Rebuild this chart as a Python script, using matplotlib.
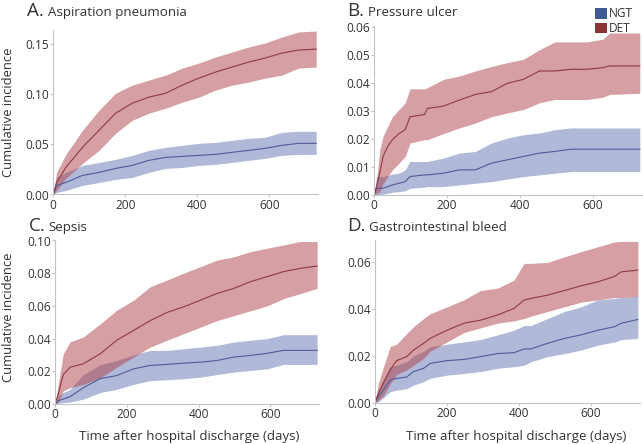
import matplotlib
matplotlib.use("Agg")
import matplotlib.pyplot as plt
from matplotlib.patches import Patch

plt.rcParams['font.family'] = ['Open Sans', 'DejaVu Sans']

# ---------------- data ----------------
# Panel A: Aspiration pneumonia
a_days = [0, 9, 35, 81, 127, 173, 219, 265, 312, 358, 404, 450, 496, 542, 588, 635, 681, 730]
a_det = [0, 0.012, 0.027, 0.047, 0.064, 0.081, 0.091, 0.097, 0.101, 0.109, 0.116, 0.122, 0.127, 0.132, 0.136, 0.141, 0.144, 0.145]
a_det_hi = [0, 0.022, 0.040, 0.064, 0.084, 0.101, 0.109, 0.114, 0.119, 0.126, 0.131, 0.137, 0.142, 0.147, 0.151, 0.157, 0.162, 0.163]
a_det_lo = [0, 0.004, 0.016, 0.031, 0.044, 0.061, 0.074, 0.081, 0.086, 0.092, 0.097, 0.104, 0.109, 0.112, 0.116, 0.119, 0.126, 0.127]
a_ngt = [0, 0.009, 0.012, 0.019, 0.022, 0.026, 0.029, 0.034, 0.037, 0.038, 0.039, 0.040, 0.042, 0.044, 0.046, 0.049, 0.051, 0.051]
a_ngt_hi = [0, 0.017, 0.022, 0.029, 0.032, 0.035, 0.039, 0.044, 0.047, 0.049, 0.051, 0.052, 0.054, 0.056, 0.057, 0.062, 0.063, 0.063]
a_ngt_lo = [0, 0.002, 0.004, 0.009, 0.012, 0.015, 0.017, 0.022, 0.026, 0.027, 0.029, 0.030, 0.032, 0.034, 0.036, 0.039, 0.040, 0.040]

# Panel B: Pressure ulcer
b_days = [0, 6, 15, 24, 37, 50, 68, 85, 98, 138, 146, 190, 234, 278, 322, 366, 410, 454, 497, 541, 585, 629, 647, 730]
b_det = [0, 0.003, 0.0078, 0.0138, 0.0174, 0.0198, 0.022, 0.0234, 0.028, 0.0288, 0.031, 0.0318, 0.034, 0.036, 0.037, 0.040, 0.0414, 0.0444, 0.0444, 0.045, 0.045, 0.0456, 0.0462, 0.0462]
b_det_hi = [0, 0.005, 0.016, 0.021, 0.0246, 0.028, 0.0306, 0.033, 0.038, 0.038, 0.0384, 0.0414, 0.0426, 0.0444, 0.046, 0.0474, 0.0486, 0.052, 0.0548, 0.0548, 0.0548, 0.0558, 0.058, 0.058]
b_det_lo = [0, 0.0005, 0.001, 0.004, 0.0066, 0.009, 0.0114, 0.0138, 0.0186, 0.0198, 0.0198, 0.022, 0.024, 0.0258, 0.028, 0.0294, 0.0306, 0.033, 0.0342, 0.0342, 0.0342, 0.035, 0.036, 0.0364]
b_ngt = [0, 0.0024, 0.0024, 0.0024, 0.003, 0.0036, 0.0042, 0.0048, 0.0066, 0.0072, 0.0072, 0.0078, 0.009, 0.009, 0.0114, 0.0126, 0.0138, 0.015, 0.0156, 0.0164, 0.0164, 0.0164, 0.0164, 0.0164]
b_ngt_hi = [0, 0.0066, 0.0066, 0.0066, 0.007, 0.0075, 0.0078, 0.009, 0.012, 0.012, 0.012, 0.0132, 0.015, 0.0156, 0.0186, 0.0204, 0.0216, 0.0222, 0.0234, 0.024, 0.024, 0.024, 0.024, 0.024]
b_ngt_lo = [0, 0, 0, 0.0003, 0.0006, 0.001, 0.0012, 0.0015, 0.0024, 0.0028, 0.003, 0.003, 0.0036, 0.0042, 0.0048, 0.0057, 0.0066, 0.0072, 0.0078, 0.0084, 0.0084, 0.0084, 0.0084, 0.0084]

# Panel C: Sepsis
c_days = [0, 9, 23, 42, 79, 126, 172, 219, 265, 312, 358, 405, 451, 498, 544, 591, 637, 684, 730]
c_det = [0, 0.006, 0.018, 0.0225, 0.0246, 0.0307, 0.039, 0.045, 0.051, 0.056, 0.0594, 0.0635, 0.0676, 0.0707, 0.0748, 0.0779, 0.081, 0.083, 0.0844]
c_det_hi = [0, 0.012, 0.0307, 0.038, 0.041, 0.049, 0.0574, 0.0635, 0.0717, 0.0758, 0.080, 0.084, 0.088, 0.090, 0.0932, 0.0953, 0.0973, 0.0994, 0.0994]
c_det_lo = [0, 0.001, 0.008, 0.010, 0.012, 0.016, 0.0225, 0.0287, 0.0348, 0.039, 0.043, 0.047, 0.051, 0.054, 0.057, 0.060, 0.0645, 0.0676, 0.0707]
c_ngt = [0, 0.002, 0.003, 0.0045, 0.010, 0.0155, 0.0174, 0.0215, 0.0236, 0.0242, 0.025, 0.0256, 0.0266, 0.0287, 0.0297, 0.031, 0.0328, 0.0328, 0.0328]
c_ngt_hi = [0, 0.005, 0.007, 0.009, 0.018, 0.024, 0.0266, 0.030, 0.0328, 0.0328, 0.0338, 0.0348, 0.0359, 0.0379, 0.039, 0.040, 0.0424, 0.0424, 0.0424]
c_ngt_lo = [0, 0.0004, 0.0008, 0.0012, 0.003, 0.007, 0.009, 0.012, 0.0143, 0.0148, 0.0155, 0.0164, 0.018, 0.0195, 0.0205, 0.0215, 0.0242, 0.0242, 0.0242]

# Panel D: Gastrointestinal bleed
d_days = [0, 9, 23, 42, 60, 88, 107, 135, 153, 200, 247, 293, 340, 386, 414, 433, 479, 526, 572, 619, 665, 684, 730]
d_det = [0, 0.004, 0.0083, 0.014, 0.018, 0.0197, 0.0225, 0.0254, 0.0275, 0.031, 0.034, 0.0353, 0.0375, 0.0403, 0.0439, 0.0446, 0.046, 0.048, 0.050, 0.0517, 0.054, 0.056, 0.0567]
d_det_hi = [0, 0.008, 0.015, 0.024, 0.025, 0.0296, 0.0325, 0.036, 0.038, 0.041, 0.044, 0.048, 0.049, 0.0524, 0.0596, 0.0596, 0.060, 0.0624, 0.0646, 0.0667, 0.0688, 0.069, 0.069]
d_det_lo = [0, 0.001, 0.003, 0.008, 0.012, 0.014, 0.016, 0.019, 0.022, 0.026, 0.030, 0.032, 0.034, 0.035, 0.036, 0.037, 0.039, 0.041, 0.043, 0.044, 0.045, 0.045, 0.0455]
d_ngt = [0, 0.0026, 0.0054, 0.0097, 0.0104, 0.011, 0.0133, 0.0147, 0.0168, 0.018, 0.0185, 0.0197, 0.021, 0.0214, 0.023, 0.023, 0.0254, 0.0275, 0.029, 0.031, 0.0325, 0.034, 0.0356]
d_ngt_hi = [0, 0.0047, 0.0097, 0.0154, 0.016, 0.0175, 0.020, 0.022, 0.024, 0.025, 0.026, 0.027, 0.029, 0.031, 0.033, 0.033, 0.036, 0.039, 0.041, 0.044, 0.0446, 0.045, 0.0456]
d_ngt_lo = [0, 0.0004, 0.002, 0.0047, 0.0054, 0.006, 0.0075, 0.009, 0.0104, 0.0118, 0.0125, 0.0133, 0.0147, 0.0154, 0.016, 0.0175, 0.0197, 0.021, 0.0225, 0.0246, 0.026, 0.027, 0.0275]

panel_letters = ["A.", "B.", "C.", "D."]
panel_titles = ["Aspiration pneumonia", "Pressure ulcer", "Sepsis", "Gastrointestinal bleed"]
a_ticks = [0.00, 0.05, 0.10, 0.15]
b_ticks = [0.00, 0.01, 0.02, 0.03, 0.04, 0.05, 0.06]
c_ticks = [0.00, 0.02, 0.04, 0.06, 0.08, 0.10]
d_ticks = [0.00, 0.02, 0.04, 0.06]
x_ticks = [0, 200, 400, 600]
legend_labels = ["NGT", "DET"]
y_label = "Cumulative incidence"
x_label = "Time after hospital discharge (days)"

# ---------------- style ----------------
W, H = 643, 444
fig = plt.figure(figsize=(W / 100, H / 100), dpi=100)

RED_BAND = '#ae4148'
BLUE_BAND = '#6475b2'
RED_LINE = '#8e3a40'
BLUE_LINE = '#4e5c9a'
SPINE = '#c4c4c4'
TXT = '#333333'

def px_axes(l, r, t, b):
    return [l / W, 1 - b / H, (r - l) / W, (b - t) / H]

panels = [
    dict(rect=px_axes(53.3, 318.3, 30, 194.5), days=a_days,
         ngt=(a_ngt, a_ngt_lo, a_ngt_hi), det=(a_det, a_det_lo, a_det_hi),
         ylim=0.164, ticks=a_ticks),
    dict(rect=px_axes(374.3, 642, 26, 195), days=b_days,
         ngt=(b_ngt, b_ngt_lo, b_ngt_hi), det=(b_det, b_det_lo, b_det_hi),
         ylim=0.0605, ticks=b_ticks),
    dict(rect=px_axes(55, 319.3, 240.5, 404), days=c_days,
         ngt=(c_ngt, c_ngt_lo, c_ngt_hi), det=(c_det, c_det_lo, c_det_hi),
         ylim=0.1, ticks=c_ticks),
    dict(rect=px_axes(375, 640, 240, 402.7), days=d_days,
         ngt=(d_ngt, d_ngt_lo, d_ngt_hi), det=(d_det, d_det_lo, d_det_hi),
         ylim=0.0696, ticks=d_ticks),
]

XMAX = 736
for p in panels:
    ax = fig.add_axes(p['rect'])
    days = p['days']
    for (est, lo, hi), band, line in ((p['ngt'], BLUE_BAND, BLUE_LINE),
                                      (p['det'], RED_BAND, RED_LINE)):
        ax.fill_between(days, lo, hi, color=band, alpha=0.5, linewidth=0)
        ax.plot(days, est, color=line, linewidth=0.8)
    ax.set_xlim(0, XMAX)
    ax.set_ylim(0, p['ylim'])
    ax.set_xticks(x_ticks)
    ax.set_xticklabels([str(t) for t in x_ticks])
    ax.set_yticks(p['ticks'])
    ax.set_yticklabels(['{:.2f}'.format(t) for t in p['ticks']])
    for s in ('top', 'right'):
        ax.spines[s].set_visible(False)
    for s in ('left', 'bottom'):
        ax.spines[s].set_color(SPINE)
        ax.spines[s].set_linewidth(0.8)
    ax.tick_params(axis='both', colors=SPINE, labelcolor=TXT, labelsize=8.6,
                   length=2, width=0.8, pad=1)
    ax.set_facecolor('none')

# titles
title_pos = [(27, 16), (346.7, 15.5), (29, 231), (346.7, 231)]
name_x = [48, 368, 48.3, 369]
for (lx, by), nx, letter, name in zip(title_pos, name_x, panel_letters, panel_titles):
    fig.text(lx / W, 1 - by / H, letter, fontsize=13.5, color=TXT, va='baseline', ha='left')
    fig.text(nx / W, 1 - by / H, name, fontsize=9.6, color=TXT, va='baseline', ha='left')

# y labels
for cy in (112.7, 317.5):
    fig.text(9 / W, 1 - cy / H, y_label, rotation=90, fontsize=9.4, color=TXT,
             va='center', ha='center')
# x labels
for cx in (188.8, 515.8):
    fig.text(cx / W, 1 - 439.5 / H, x_label, fontsize=9.5, color=TXT,
             va='baseline', ha='center')

# legend
handles = [Patch(facecolor='#3f5b96', edgecolor='none'),
           Patch(facecolor='#8b3434', edgecolor='none')]
fig.legend(handles, legend_labels, loc='upper left',
           bbox_to_anchor=(587 / W, 1 + 1 / H), frameon=False, fontsize=8.6,
           handlelength=1.0, handleheight=1.0, handletextpad=0.15,
           labelspacing=0.15, borderpad=0.2, labelcolor=TXT)

fig.savefig('out.png', dpi=100)
